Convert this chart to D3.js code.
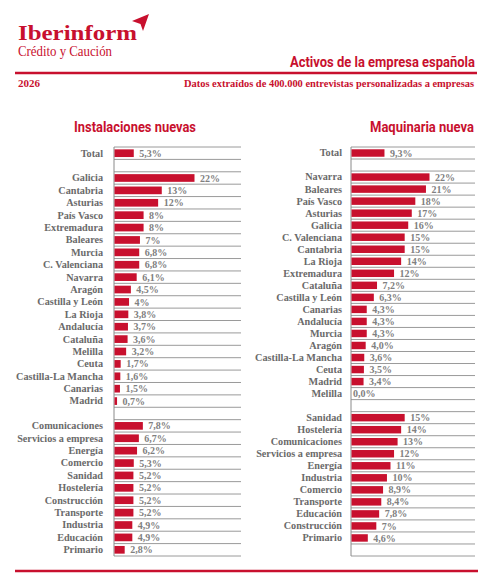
<!DOCTYPE html>
<html lang="es">
<head>
    <meta charset="UTF-8">
    <title>Activos de la empresa española</title>
    <script src="https://d3js.org/d3.v7.min.js"></script>
    <style>
        body { margin: 0; background: #fff; }
        svg { display: block; }
    </style>
</head>
<body>
<script>
    var w = 492;
    var h = 583;
    var red = "#c8102e";

    // Instalaciones nuevas
    var leftCats = ["Total", "", "Galicia", "Cantabria", "Asturias", "País Vasco", "Extremadura", "Baleares",
        "Murcia", "C. Valenciana", "Navarra", "Aragón", "Castilla y León", "La Rioja", "Andalucía", "Cataluña",
        "Melilla", "Ceuta", "Castilla-La Mancha", "Canarias", "Madrid", "",
        "Comunicaciones", "Servicios a empresa", "Energía", "Comercio", "Sanidad", "Hostelería",
        "Construcción", "Transporte", "Industria", "Educación", "Primario"];
    var leftVals = [5.3, null, 22, 13, 12, 8, 8, 7, 6.8, 6.8, 6.1, 4.5, 4, 3.8, 3.7, 3.6, 3.2, 1.7, 1.6, 1.5, 0.7, null,
        7.8, 6.7, 6.2, 5.3, 5.2, 5.2, 5.2, 5.2, 4.9, 4.9, 2.8];
    var leftLabels = ["5,3%", "", "22%", "13%", "12%", "8%", "8%", "7%", "6,8%", "6,8%", "6,1%", "4,5%", "4%",
        "3,8%", "3,7%", "3,6%", "3,2%", "1,7%", "1,6%", "1,5%", "0,7%", "",
        "7,8%", "6,7%", "6,2%", "5,3%", "5,2%", "5,2%", "5,2%", "5,2%", "4,9%", "4,9%", "2,8%"];

    // Maquinaria nueva
    var rightCats = ["Total", "", "Navarra", "Baleares", "País Vasco", "Asturias", "Galicia", "C. Valenciana",
        "Cantabria", "La Rioja", "Extremadura", "Cataluña", "Castilla y León", "Canarias", "Andalucía", "Murcia",
        "Aragón", "Castilla-La Mancha", "Ceuta", "Madrid", "Melilla", "",
        "Sanidad", "Hostelería", "Comunicaciones", "Servicios a empresa", "Energía", "Industria", "Comercio",
        "Transporte", "Educación", "Construcción", "Primario", ""];
    var rightVals = [9.3, null, 22, 21, 18, 17, 16, 15, 15, 14, 12, 7.2, 6.3, 4.3, 4.3, 4.3, 4.0, 3.6, 3.5, 3.4, 0, null,
        15, 14, 13, 12, 11, 10, 8.9, 8.4, 7.8, 7, 4.6, null];
    var rightLabels = ["9,3%", "", "22%", "21%", "18%", "17%", "16%", "15%", "15%", "14%", "12%", "7,2%", "6,3%",
        "4,3%", "4,3%", "4,3%", "4,0%", "3,6%", "3,5%", "3,4%", "0,0%", "",
        "15%", "14%", "13%", "12%", "11%", "10%", "8,9%", "8,4%", "7,8%", "7%", "4,6%", ""];

    var svg = d3.select("body")
        .append("svg")
        .attr("width", w)
        .attr("height", h);

    // ---- header ----
    svg.append("text")
        .attr("x", 18).attr("y", 40)
        .attr("textLength", 119).attr("lengthAdjust", "spacingAndGlyphs")
        .attr("font-family", "Liberation Serif, serif")
        .attr("font-weight", "bold")
        .attr("font-size", "21px")
        .attr("fill", red)
        .text("Iberinform");

    // little plane mark
    svg.append("path")
        .attr("d", "M132,21 L149,14 L143,31 L140.5,24 Z")
        .attr("fill", red);

    svg.append("text")
        .attr("x", 18).attr("y", 56)
        .attr("textLength", 94).attr("lengthAdjust", "spacingAndGlyphs")
        .attr("font-family", "Liberation Serif, serif")
        .attr("font-size", "14px")
        .attr("fill", red)
        .text("Crédito y Caución");

    svg.append("text")
        .attr("x", 475).attr("y", 67)
        .attr("text-anchor", "end")
        .attr("textLength", 185).attr("lengthAdjust", "spacingAndGlyphs")
        .attr("font-family", "Roboto, sans-serif")
        .attr("font-weight", "bold")
        .attr("font-size", "14px")
        .attr("fill", red)
        .text("Activos de la empresa española");

    svg.append("line")
        .attr("x1", 15).attr("x2", 477)
        .attr("y1", 73).attr("y2", 73)
        .attr("stroke", red).attr("stroke-width", 2.5);

    svg.append("text")
        .attr("x", 18).attr("y", 87)
        .attr("textLength", 22).attr("lengthAdjust", "spacingAndGlyphs")
        .attr("font-family", "Liberation Serif, serif")
        .attr("font-weight", "bold")
        .attr("font-size", "10px")
        .attr("fill", red)
        .text("2026");

    svg.append("text")
        .attr("x", 474).attr("y", 87)
        .attr("text-anchor", "end")
        .attr("textLength", 290).attr("lengthAdjust", "spacingAndGlyphs")
        .attr("font-family", "Liberation Serif, serif")
        .attr("font-weight", "bold")
        .attr("font-size", "10px")
        .attr("fill", red)
        .text("Datos extraídos de 400.000 entrevistas personalizadas a empresas");

    // bottom rule
    svg.append("line")
        .attr("x1", 15).attr("x2", 478)
        .attr("y1", 571).attr("y2", 571)
        .attr("stroke", red).attr("stroke-width", 2.5);

    // ---- panels ----
    function drawPanel(cats, vals, labels, opt) {
        var g = svg.append("g");

        var yScale = d3.scaleBand()
            .domain(d3.range(cats.length))
            .range([147, 556])
            .paddingInner(0.38)
            .paddingOuter(0.19);

        var xScale = d3.scaleLinear()
            .domain([0, 22])
            .range([opt.x0, opt.x22]);

        var step = yScale.step();
        var top = 147;

        // title
        g.append("text")
            .attr("x", opt.titleX).attr("y", 132)
            .attr("text-anchor", opt.titleAnchor)
            .attr("textLength", opt.titleLen).attr("lengthAdjust", "spacingAndGlyphs")
            .attr("font-family", "Roboto, sans-serif")
            .attr("font-weight", "bold")
            .attr("font-size", "14px")
            .attr("fill", red)
            .text(opt.title);

        // grid lines at each row boundary
        g.selectAll("line.grid")
            .data(d3.range(cats.length + 1))
            .enter()
            .append("line")
            .attr("class", "grid")
            .attr("x1", opt.x0)
            .attr("x2", opt.gridEnd)
            .attr("y1", function(d) { return top + d * step; })
            .attr("y2", function(d) { return top + d * step; })
            .attr("stroke", "#9a9a9a")
            .attr("stroke-width", 1);

        // axis line
        g.append("line")
            .attr("x1", opt.x0).attr("x2", opt.x0)
            .attr("y1", top).attr("y2", top + cats.length * step)
            .attr("stroke", "#8a8a8a")
            .attr("stroke-width", 1);

        var idx = d3.range(cats.length).filter(function(i) { return vals[i] !== null; });

        g.selectAll("rect")
            .data(idx)
            .enter()
            .append("rect")
            .attr("x", xScale(0) + 0.5)
            .attr("y", function(i) { return yScale(i); })
            .attr("width", function(i) { return Math.max(0, xScale(vals[i]) - xScale(0)); })
            .attr("height", yScale.bandwidth())
            .attr("fill", red);

        // category labels
        g.selectAll("text.cat")
            .data(idx)
            .enter()
            .append("text")
            .attr("class", "cat")
            .attr("x", opt.labelX)
            .attr("y", function(i) { return yScale(i) + yScale.bandwidth() / 2 + 3.4; })
            .attr("text-anchor", "end")
            .attr("font-family", "Liberation Serif, serif")
            .attr("font-weight", "bold")
            .attr("font-size", "10.2px")
            .attr("fill", "#6a6a6a")
            .text(function(i) { return cats[i]; });

        // value labels
        g.selectAll("text.val")
            .data(idx)
            .enter()
            .append("text")
            .attr("class", "val")
            .attr("x", function(i) { return xScale(vals[i]) + (vals[i] > 0 ? 6 : 2); })
            .attr("y", function(i) { return yScale(i) + yScale.bandwidth() / 2 + 3.6; })
            .attr("font-family", "Liberation Serif, serif")
            .attr("font-weight", "bold")
            .attr("font-size", "10px")
            .attr("fill", "#808080")
            .text(function(i) { return labels[i]; });
    }

    drawPanel(leftCats, leftVals, leftLabels, {
        x0: 114, x22: 194, gridEnd: 241, labelX: 103,
        title: "Instalaciones nuevas", titleX: 74, titleAnchor: "start", titleLen: 122
    });

    drawPanel(rightCats, rightVals, rightLabels, {
        x0: 351, x22: 429, gridEnd: 475, labelX: 342,
        title: "Maquinaria nueva", titleX: 474, titleAnchor: "end", titleLen: 104
    });
</script>
</body>
</html>
